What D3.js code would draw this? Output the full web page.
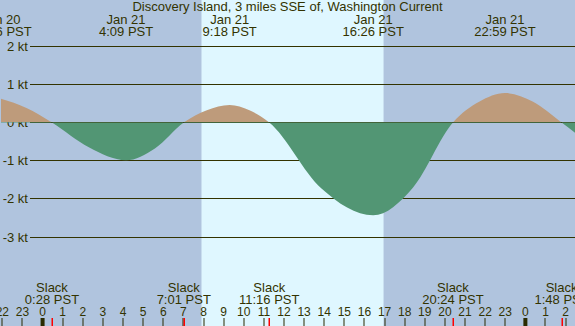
<!DOCTYPE html>
<html>
<head>
<meta charset="UTF-8">
<title></title>
<style>
  body { margin: 0; }
  text { font-family: "Liberation Sans", Arial, sans-serif; fill: #333300; }
</style>
</head>
<body>
<script src="https://cdn.jsdelivr.net/npm/d3@7"></script>
<script>
var title = "Discovery Island, 3 miles SSE of, Washington Current";

// max flood / max ebb events
var maxTimes = ["2024-01-20 21:56", "2024-01-21 04:09", "2024-01-21 09:18", "2024-01-21 16:26", "2024-01-21 22:59"];
var maxValues = [0.62, -0.99, 0.46, -2.43, 0.77];

// slack water
var slackTimes = ["2024-01-21 00:28", "2024-01-21 07:01", "2024-01-21 11:16", "2024-01-21 20:24", "2024-01-22 01:48"];

// current readings (kt) taken off the plot
var currentTimes = ["2024-01-20 21:56", "2024-01-20 23:12", "2024-01-21 00:28", "2024-01-21 02:18", "2024-01-21 04:09",
  "2024-01-21 05:35", "2024-01-21 07:01", "2024-01-21 08:10", "2024-01-21 09:18", "2024-01-21 10:17",
  "2024-01-21 11:16", "2024-01-21 13:51", "2024-01-21 16:26", "2024-01-21 18:25", "2024-01-21 20:24",
  "2024-01-21 21:42", "2024-01-21 22:59", "2024-01-22 00:23", "2024-01-22 01:48", "2024-01-22 03:33",
  "2024-01-22 05:18"];
var currentValues = [0.62, 0.38, 0, -0.65, -0.99,
  -0.68, 0, 0.32, 0.46, 0.32,
  0, -1.72, -2.43, -1.70, 0,
  0.54, 0.77, 0.54, 0, -0.66,
  -0.93];

var sunrise = "2024-01-21 07:54";
var sunset = "2024-01-21 16:57";
var viewStart = "2024-01-20 21:53";
var viewEnd = "2024-01-22 02:28";
var ktTicks = [-3, -2, -1, 0, 1, 2];

var W = 575, H = 326;
var parse = d3.utcParse("%Y-%m-%d %H:%M");
var fmtTime = d3.utcFormat("%-H:%M");
var fmtDate = d3.utcFormat("%b %-d");

var svg = d3.select('body').append('svg')
  .attr('width', W)
  .attr('height', H);

var x = d3.scaleUtc()
  .domain([parse(viewStart), parse(viewEnd)])
  .range([0, W]);

var y = d3.scaleLinear()
  .domain([-3, 2])
  .range([237.1, 46.1]);

// night background + daylight band
svg.append('rect')
  .attr('width', W).attr('height', H)
  .attr('fill', '#b0c4de');
svg.append('rect')
  .attr('x', x(parse(sunrise)))
  .attr('width', x(parse(sunset)) - x(parse(sunrise)))
  .attr('y', 0).attr('height', H)
  .attr('fill', '#dff7ff');

// grid lines + kt labels
var grid = svg.append('g');
grid.selectAll('line')
  .data(ktTicks)
  .enter().append('line')
  .attr('x1', 30).attr('x2', W)
  .attr('y1', function(d) { return Math.floor(y(d)) + 0.5; })
  .attr('y2', function(d) { return Math.floor(y(d)) + 0.5; })
  .attr('stroke', '#333300')
  .attr('stroke-width', 1);
grid.selectAll('text')
  .data(ktTicks)
  .enter().append('text')
  .attr('x', 28)
  .attr('y', function(d) { return Math.floor(y(d)) + 5; })
  .attr('text-anchor', 'end')
  .style('font-size', '13px')
  .text(function(d) { return d + ' kt'; });

// current curve, split into flood (above 0) and ebb (below 0)
var pts = currentTimes.map(function(t, i) {
  return { t: parse(t), v: currentValues[i] };
});
var y0 = Math.floor(y(0));
var defs = svg.append('defs');
defs.append('clipPath').attr('id', 'floodClip')
  .append('rect').attr('x', 0).attr('y', 0).attr('width', W).attr('height', y0);
defs.append('clipPath').attr('id', 'ebbClip')
  .append('rect').attr('x', 0).attr('y', y0).attr('width', W).attr('height', H - y0);

var area = d3.area()
  .curve(d3.curveMonotoneX)
  .x(function(d) { return x(d.t); })
  .y0(y(0))
  .y1(function(d) { return y(d.v); });

svg.append('path')
  .datum(pts)
  .attr('d', area)
  .attr('fill', '#be9b7b')
  .attr('clip-path', 'url(#floodClip)');
svg.append('path')
  .datum(pts)
  .attr('d', area)
  .attr('fill', '#529674')
  .attr('clip-path', 'url(#ebbClip)');

// title
svg.append('text')
  .attr('x', W / 2).attr('y', 11)
  .attr('text-anchor', 'middle')
  .style('font-size', '13px')
  .text(title);

// max event labels on top
var tops = svg.append('g').selectAll('g')
  .data(maxTimes.map(parse))
  .enter().append('g')
  .attr('transform', function(d) { return 'translate(' + x(d) + ',0)'; });
tops.append('text')
  .attr('y', 24)
  .attr('text-anchor', 'middle')
  .style('font-size', '13px')
  .text(function(d) { return fmtDate(d); });
tops.append('text')
  .attr('y', 36)
  .attr('text-anchor', 'middle')
  .style('font-size', '13px')
  .text(function(d) { return fmtTime(d) + ' PST'; });

// slack labels at bottom
var slacks = svg.append('g').selectAll('g')
  .data(slackTimes.map(parse))
  .enter().append('g')
  .attr('transform', function(d) { return 'translate(' + x(d) + ',0)'; });
slacks.append('text')
  .attr('y', 292)
  .attr('text-anchor', 'middle')
  .style('font-size', '13px')
  .text('Slack');
slacks.append('text')
  .attr('y', 304)
  .attr('text-anchor', 'middle')
  .style('font-size', '13px')
  .text(function(d) { return fmtTime(d) + ' PST'; });

// hour axis
var hours = d3.utcHour.range(d3.utcHour.ceil(x.domain()[0]), x.domain()[1]);
var hourAxis = svg.append('g');
hourAxis.selectAll('text')
  .data(hours)
  .enter().append('text')
  .attr('x', function(d) { return x(d); })
  .attr('y', 316)
  .attr('text-anchor', 'middle')
  .style('font-size', '12px')
  .text(function(d) { return d.getUTCHours(); });
hourAxis.selectAll('rect.tick')
  .data(hours)
  .enter().append('rect')
  .attr('class', 'tick')
  .attr('x', function(d) { return d.getUTCHours() === 0 ? x(d) - 2 : Math.round(x(d)) - 0.5; })
  .attr('width', function(d) { return d.getUTCHours() === 0 ? 4 : 1; })
  .attr('y', 318)
  .attr('height', H - 318)
  .attr('fill', '#2b2b00');
hourAxis.selectAll('rect.slack')
  .data(slackTimes.map(parse))
  .enter().append('rect')
  .attr('class', 'slack')
  .attr('x', function(d) { return Math.round(x(d)) - 0.5; })
  .attr('width', 1.5)
  .attr('y', 318)
  .attr('height', H - 318)
  .attr('fill', '#ff0000');
</script>
</body>
</html>
